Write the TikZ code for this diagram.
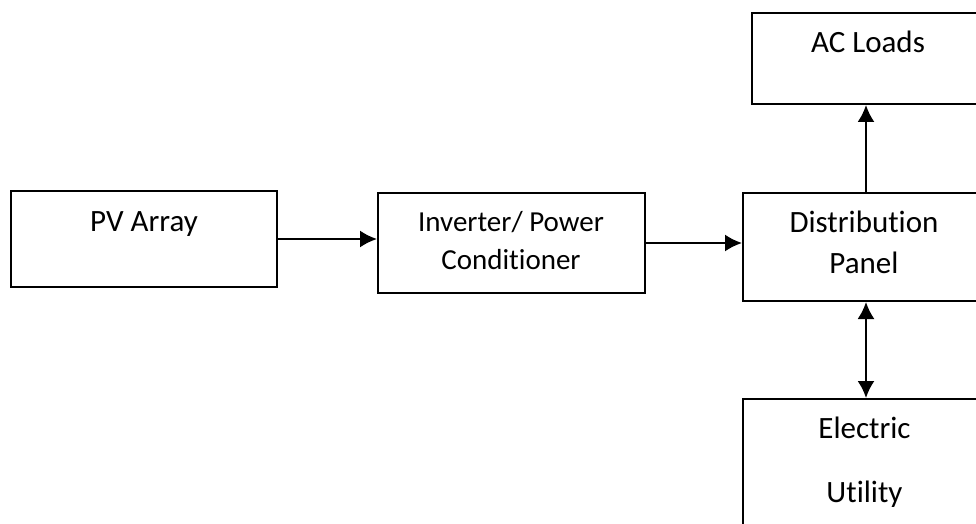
\documentclass[tikz,border=0pt]{standalone}
\usepackage{fontspec}
\setmainfont{Carlito}[Ligatures=NoCommon]
\usetikzlibrary{arrows.meta}
\begin{document}
\begin{tikzpicture}
	[ x=0.5pt, y=-0.5pt,
	  block/.style={draw,line width=1pt,rectangle,inner sep=0pt},
	  caption/.style={anchor=base,inner sep=0pt,font=\fontsize{15.5}{18}\selectfont},
	  small/.style={caption,font=\fontsize{14.5}{17}\selectfont},
	  link/.style={line width=1pt,-{Latex[length=8.5pt,width=8.5pt]}},
	  both/.style={link,{Latex[length=8.5pt,width=8.5pt]}-{Latex[length=8.5pt,width=8.5pt]}} ]

	\clip (0,0) rectangle (976,524);

	\node[block,minimum width=133pt,minimum height=48pt] (pv) at (144,239) {};
	\node[block,minimum width=133.5pt,minimum height=50pt] (inv) at (511.5,243) {};
	\node[block,minimum width=123pt,minimum height=54pt] (dist) at (866,247) {};
	\node[block,minimum width=116pt,minimum height=45.5pt] (ac) at (868,58.5) {};
	\node[block,minimum width=123pt,minimum height=90pt] (grid) at (866,489) {};

	\node[caption] (pvtxt) at (144,232) {PV Array};
	\node[small] (invtxt1) at (511,232) {Inverter/ Power};
	\node[small] (invtxt2) at (511,270) {Conditioner};
	\node[caption] (disttxt1) at (864,233) {Distribution};
	\node[caption] (disttxt2) at (864,273) {Panel};
	\node[caption] (actxt) at (868,53) {AC Loads};
	\node[caption] (gridtxt1) at (864.5,438) {Electric};
	\node[caption] (gridtxt2) at (864.5,502) {Utility};

	\draw[link] (pv.east) -- (pv.east -| inv.west);
	\draw[link] (inv.east) -- (inv.east -| dist.west);
	\draw[link] (dist.north) -- (dist.north |- ac.south);
	\draw[both] (dist.south) -- (grid.north);

\end{tikzpicture}
\end{document}
